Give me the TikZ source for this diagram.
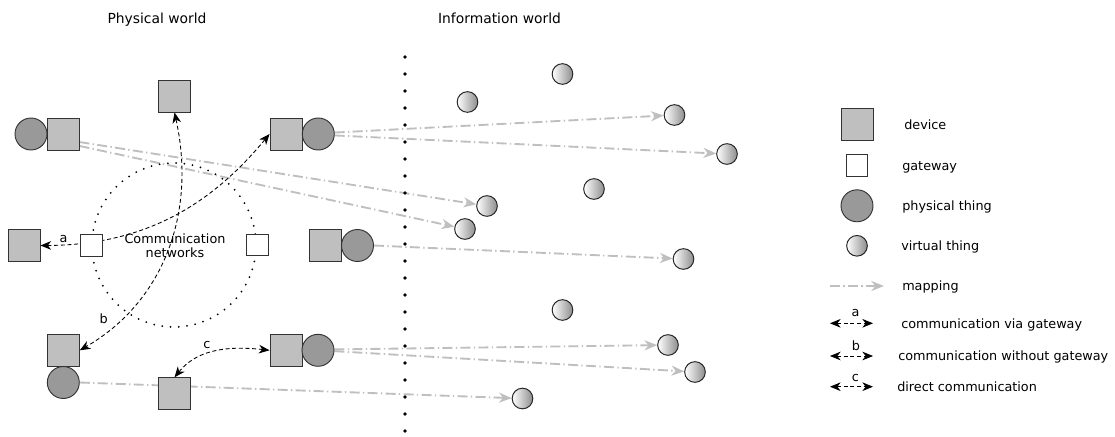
\documentclass[tikz,border=0pt]{standalone}
\usepackage{fontspec}
\setmainfont{DejaVu Sans}
\usetikzlibrary{arrows.meta}
\pgfdeclarelayer{bg}
\pgfsetlayers{bg,main}
\begin{document}
\begin{tikzpicture}[x=0.75pt,y=-0.75pt,
  device/.style={rectangle,draw=black!80,line width=0.7pt,fill=black!25,minimum size=24pt,inner sep=0pt},
  gw/.style={rectangle,draw=black!80,line width=0.7pt,fill=white,minimum size=16.2pt,inner sep=0pt},
  pthing/.style={circle,draw=black!80,line width=0.7pt,fill=black!40,minimum size=24pt,inner sep=0pt},
  vthing/.style={circle,draw=black!85,line width=0.75pt,left color=white,middle color=white,right color=black!45,minimum size=15.5pt,inner sep=0pt},
  mapline/.style={draw=black!25,line width=1.4pt,dash pattern=on 7.5pt off 2.5pt on 1pt off 2.5pt,
     -{Stealth[length=9.5pt,width=7.5pt,inset=3pt,fill=black!25]}},
  comm/.style={draw=black,line width=0.65pt,dash pattern=on 3pt off 2pt,
     {Stealth[length=8pt,width=6.5pt,inset=2.5pt]}-{Stealth[length=8pt,width=6.5pt,inset=2.5pt]}},
  lbl/.style={font=\fontsize{9.6pt}{11.5pt}\selectfont,inner sep=0pt},
  ttl/.style={font=\fontsize{10.4pt}{12pt}\selectfont,inner sep=0pt},
  ]
\useasboundingbox (0,0) rectangle (1115,436);

% titles
\node[ttl,anchor=base] (tphys) at (157,23) {Physical world};
\node[ttl,anchor=base] (tinfo) at (499.5,23) {Information world};

% separator
\draw[line width=2.7pt,line cap=round,dash pattern=on 0pt off 12.75pt] (405,57) -- (405,433);

% communication networks
\draw[line width=1.5pt,line cap=round,dash pattern=on 0pt off 6.2pt] (174,245) circle[radius=82];
\node[lbl,align=center,anchor=base] (cn1) at (175,243) {Communication};
\node[lbl,align=center,anchor=base] (cn2) at (175,257) {networks};

% physical world nodes
\node[device] (tmdev) at (174.5,96) {};
\node[pthing] (tlpt) at (31,134) {};
\node[device] (tldev) at (63,134) {};
\node[device] (trdev) at (286,134) {};
\node[pthing] (trpt) at (318.3,134) {};
\node[device] (lmdev) at (24,245.5) {};
\node[gw] (gwl) at (91.3,245.2) {};
\node[gw] (gwr) at (257.5,245) {};
\node[device] (rmdev) at (325.5,245.5) {};
\node[pthing] (rmpt) at (357.5,245.5) {};
\node[device] (bldev) at (63.3,350.3) {};
\node[pthing] (blpt) at (63.3,382.5) {};
\node[device] (bmdev) at (174.5,393.8) {};
\node[device] (brdev) at (286,350.3) {};
\node[pthing] (brpt) at (318,350.3) {};

% virtual things
\node[vthing] (v1) at (562.5,74) {};
\node[vthing] (v2) at (467.5,102) {};
\node[vthing] (v3) at (674.5,115) {};
\node[vthing] (v4) at (727,154) {};
\node[vthing] (v5) at (594,189) {};
\node[vthing] (v6) at (487,206) {};
\node[vthing] (v7) at (465,229) {};
\node[vthing] (v8) at (683.5,259) {};
\node[vthing] (v9) at (562.5,310) {};
\node[vthing] (v10) at (668,345) {};
\node[vthing] (v11) at (695,372) {};
\node[vthing] (v12) at (522.5,398.5) {};

\begin{pgfonlayer}{bg}
% mappings
\draw[mapline] (tldev.-26) -- (v6);
\draw[mapline] (tldev.-36) -- (v7);
\draw[mapline] (trpt.5) -- (v3);
\draw[mapline] (trpt.-5) -- (v4);
\draw[mapline] (rmpt.east) -- (v8);
\draw[mapline] (brpt.3) -- (v10);
\draw[mapline] (brpt.-3) -- (v11);
\draw[mapline] (blpt.east) -- (v12);
% communications
\draw[comm] (lmdev.east) .. controls (150,245) and (215,200) .. (trdev.west);
\draw[comm] (tmdev.south) .. controls (197,215) and (162,303) .. (bldev.east);
\draw[comm] (bmdev.north) .. controls (195,352) and (222,345) .. (brdev.west);
\end{pgfonlayer}
\node[lbl,anchor=base] (la) at (63.5,242) {a};
\node[lbl,anchor=base] (lb) at (103.7,323) {b};
\node[lbl,anchor=base] (lc) at (207,348) {c};

% legend
\node[device] (kdev) at (857,124.7) {};
\node[lbl,anchor=base west] (kdevt) at (904,129.3) {device};
\node[gw] (kgw) at (857,165.5) {};
\node[lbl,anchor=base west] (kgwt) at (902,170) {gateway};
\node[pthing] (kpt) at (857,205.8) {};
\node[lbl,anchor=base west] (kptt) at (902,210.7) {physical thing};
\node[vthing] (kvt) at (857,245.8) {};
\node[lbl,anchor=base west] (kvtt) at (901,250.7) {virtual thing};

\coordinate (km1) at (830,286);
\coordinate (km2) at (884,286);
\draw[mapline] (km1) -- (km2);
\node[lbl,anchor=base west] (kmt) at (902,290.7) {mapping};

\coordinate (ka1) at (830,323.3);
\coordinate (ka2) at (873,323.3);
\draw[comm] (ka1) -- (ka2);
\node[lbl,anchor=base] (kal) at (855.5,316.7) {a};
\node[lbl,anchor=base west] (kat) at (901,328) {communication via gateway};

\coordinate (kb1) at (830,356);
\coordinate (kb2) at (873,356);
\draw[comm] (kb1) -- (kb2);
\node[lbl,anchor=base] (kbl) at (856,350) {b};
\node[lbl,anchor=base west] (kbt) at (898,360.5) {communication without gateway};

\coordinate (kc1) at (830,386.7);
\coordinate (kc2) at (873,386.7);
\draw[comm] (kc1) -- (kc2);
\node[lbl,anchor=base] (kcl) at (855.5,381) {c};
\node[lbl,anchor=base west] (kct) at (897,391) {direct communication};
\end{tikzpicture}
\end{document}
